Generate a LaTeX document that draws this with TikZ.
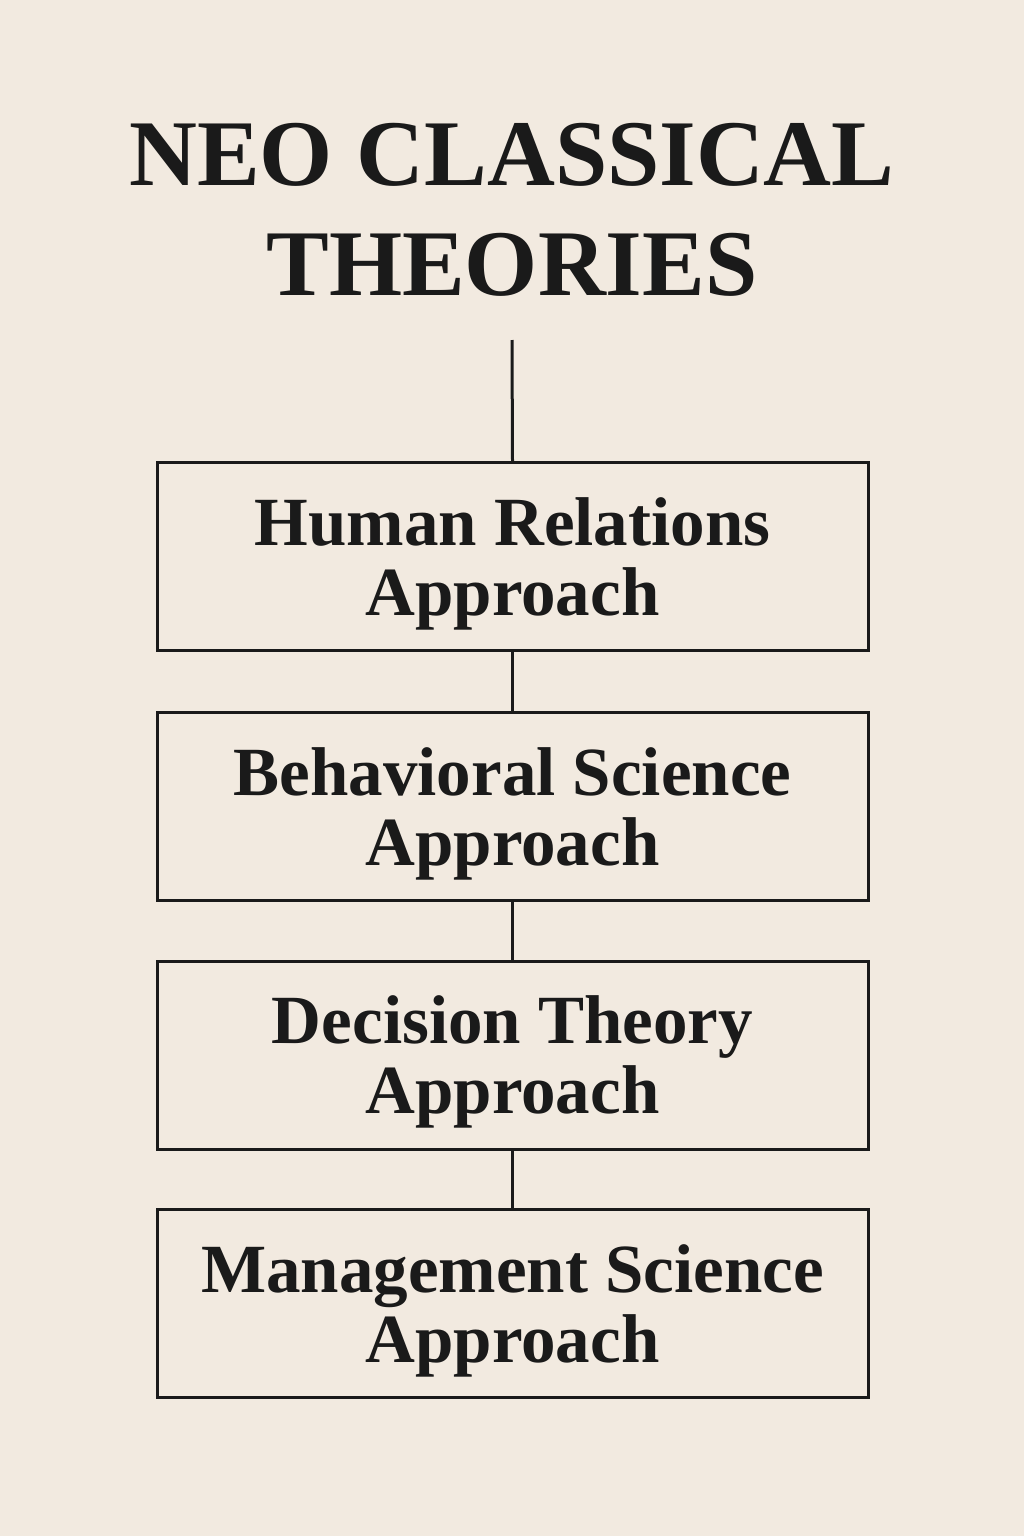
\documentclass[tikz,border=0pt]{standalone}
\usepackage{fontspec}
\setmainfont{Liberation Serif}
\definecolor{bg}{HTML}{F2EAE0}
\definecolor{ink}{HTML}{1A1A1A}
\begin{document}
\begin{tikzpicture}[x=1pt,y=-1pt,
  box/.style={draw=ink,line width=3pt,minimum width=711pt,minimum height=188pt,inner sep=0pt,
    align=center,text depth=0pt,font=\fontsize{69}{70}\selectfont\bfseries,text=ink},
  conn/.style={draw=ink,line width=3pt}]
\fill[bg] (0,0) rectangle (1024,1536);
\useasboundingbox (0,0) rectangle (1024,1536);
\node[font=\fontsize{94}{110}\selectfont\bfseries,text=ink,align=center] (title) at (512,210) {NEO CLASSICAL\\THEORIES};
\coordinate (top) at (512,340);
\node[box] (b1) at (512.5,556.5) {Human Relations\\Approach};
\node[box] (b2) at (512.5,806.5) {Behavioral Science\\Approach};
\node[box] (b3) at (512.5,1055) {Decision Theory\\Approach};
\node[box] (b4) at (512.5,1303.5) {Management Science\\Approach};
\draw[conn] (top) -- (b1.north);
\draw[conn] (b1) -- (b2);
\draw[conn] (b2) -- (b3);
\draw[conn] (b3) -- (b4);
\end{tikzpicture}
\end{document}
